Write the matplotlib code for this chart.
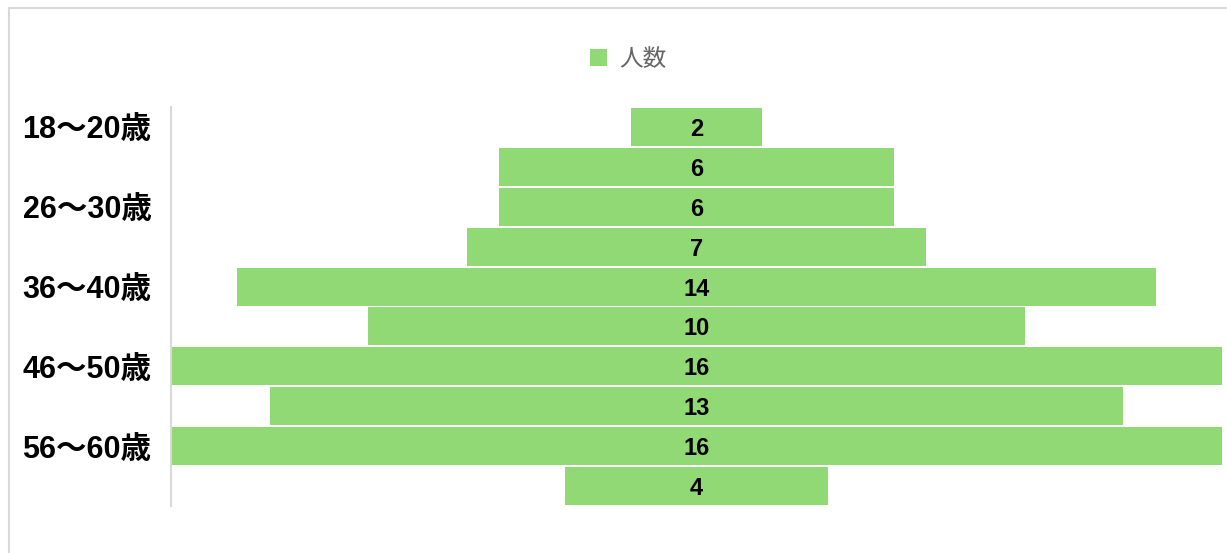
import matplotlib.pyplot as plt
from matplotlib.patches import Rectangle

plt.rcParams['font.family'] = ['Liberation Sans', 'Noto Sans CJK JP', 'DejaVu Sans']

# age groups (only every other label is shown on the axis)
ages = ['18〜20歳', '21〜25歳', '26〜30歳', '31〜35歳', '36〜40歳',
        '41〜45歳', '46〜50歳', '51〜55歳', '56〜60歳', '61〜65歳']
counts = [2, 6, 6, 7, 14, 10, 16, 13, 16, 4]
series_name = '人数'

bar_color = '#91D974'

fig = plt.figure(figsize=(12.27, 5.53), dpi=100)
ax = fig.add_axes([171 / 1227, 1 - 506 / 553, (1222 - 171) / 1227, (506 - 107) / 553])

ypos = list(range(len(ages)))
lefts = [-c / 2 for c in counts]
bars = ax.barh(ypos, counts, left=lefts, height=0.95, color=bar_color, label=series_name)

for y, c in zip(ypos, counts):
    ax.text(0, y, str(c), ha='center', va='center_baseline', fontsize=17,
            fontweight='bold', color='black')

ax.set_xlim(-8, 8)
ax.set_ylim(len(ages) - 0.5, -0.5)
ax.set_yticks(ypos)
ax.set_yticklabels([a if i % 2 == 0 else '' for i, a in enumerate(ages)],
                   fontsize=22, fontweight='bold')
ax.tick_params(axis='y', length=0, pad=14)
ax.set_xticks([])

for s in ['top', 'right', 'bottom']:
    ax.spines[s].set_visible(False)
ax.spines['left'].set_color('#D9D9D9')
ax.spines['left'].set_linewidth(1.5)

leg = fig.legend(handles=[bars], labels=[series_name], loc='center',
                 bbox_to_anchor=(628 / 1227, 1 - 60 / 553), frameon=False,
                 fontsize=17, handlelength=0.75, handleheight=0.75, handletextpad=0.5)
for t in leg.get_texts():
    t.set_color('#666666')

# outer chart border
fig.add_artist(Rectangle((9 / 1227, -0.1), 1.2, 1 - 8 / 553 + 0.1, transform=fig.transFigure,
                         fill=False, edgecolor='#D9D9D9', linewidth=1.5, clip_on=False))

fig.savefig('out.png', dpi=100)
